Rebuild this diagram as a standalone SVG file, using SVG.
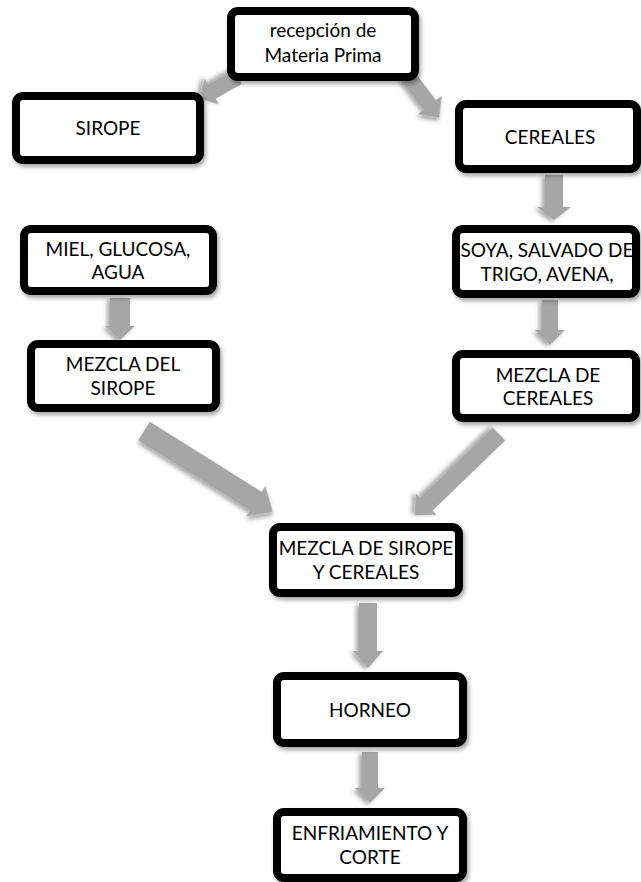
<svg xmlns="http://www.w3.org/2000/svg" width="641" height="882" viewBox="0 0 641 882">
<defs>
<filter id="sh" x="-20%" y="-20%" width="140%" height="150%">
<feDropShadow dx="2" dy="3" stdDeviation="2" flood-color="#000" flood-opacity="0.35"/>
</filter>
</defs>
<style>
.box{fill:#fff;stroke:#000;stroke-width:8;filter:url(#sh)}
.arr{fill:#a6a6a6;filter:url(#sh)}
text{font-family:Lato,"Liberation Sans",sans-serif;font-size:19px;fill:#000;text-anchor:middle}
</style>
<rect width="641" height="882" fill="#fff"/>
<g id="connectors">
<polygon class="arr" transform="translate(238,77) rotate(150.9)" points="0,-8 30,-8 30,-15 44,0 30,15 30,8 0,8"/>
<polygon class="arr" transform="translate(406,74) rotate(52.7)" points="0,-8 39,-8 39,-15 55,0 39,15 39,8 0,8"/>
<polygon class="arr" transform="translate(554,175) rotate(90)" points="0,-9 32,-9 32,-17 45,0 32,17 32,9 0,9"/>
<polygon class="arr" transform="translate(120,298) rotate(90)" points="0,-10 28,-10 28,-15 42,0 28,15 28,10 0,10"/>
<polygon class="arr" transform="translate(550,300) rotate(90)" points="0,-8 30,-8 30,-15 45,0 30,15 30,8 0,8"/>
<polygon class="arr" transform="translate(144,431) rotate(32.1)" points="0,-11 132,-11 132,-18 152,0 132,18 132,11 0,11"/>
<polygon class="arr" transform="translate(499,434) rotate(136)" points="0,-9 101,-9 101,-15 117,0 101,15 101,9 0,9"/>
<polygon class="arr" transform="translate(368,603) rotate(90)" points="0,-9 48,-9 48,-15 65,0 48,15 48,9 0,9"/>
<polygon class="arr" transform="translate(370,752) rotate(90)" points="0,-8 36,-8 36,-15 51,0 36,15 36,8 0,8"/>
</g>
<g id="n1"><rect class="box" x="231" y="11" width="184" height="66" rx="7"/><text x="323" y="37">recepción de</text><text x="323" y="62">Materia Prima</text></g>
<g id="n2"><rect class="box" x="16" y="96" width="184" height="64" rx="7"/><text x="108" y="135">SIROPE</text></g>
<g id="n3"><rect class="box" x="459" y="104" width="178" height="65" rx="7"/><text x="550" y="144">CEREALES</text></g>
<g id="n4"><rect class="box" x="24" y="229" width="189" height="62" rx="7"/><text x="118" y="256">MIEL, GLUCOSA,</text><text x="118" y="279">AGUA</text></g>
<g id="n5"><rect class="box" x="456" y="229" width="180" height="65" rx="7"/><text x="547" y="257">SOYA, SALVADO DE</text><text x="547" y="281">TRIGO, AVENA,</text></g>
<g id="n6"><rect class="box" x="31" y="344" width="185" height="64" rx="7"/><text x="123" y="371">MEZCLA DEL</text><text x="123" y="395">SIROPE</text></g>
<g id="n7"><rect class="box" x="456" y="354" width="180" height="64" rx="7"/><text x="548" y="382">MEZCLA DE</text><text x="548" y="405">CEREALES</text></g>
<g id="n8"><rect class="box" x="273" y="527" width="186" height="66" rx="7"/><text x="366" y="555">MEZCLA DE SIROPE</text><text x="366" y="579">Y CEREALES</text></g>
<g id="n9"><rect class="box" x="277" y="676" width="186" height="67" rx="7"/><text x="370" y="717">HORNEO</text></g>
<g id="n10"><rect class="box" x="277" y="812" width="186" height="66" rx="7"/><text x="370" y="840">ENFRIAMIENTO Y</text><text x="370" y="864">CORTE</text></g>
</svg>
